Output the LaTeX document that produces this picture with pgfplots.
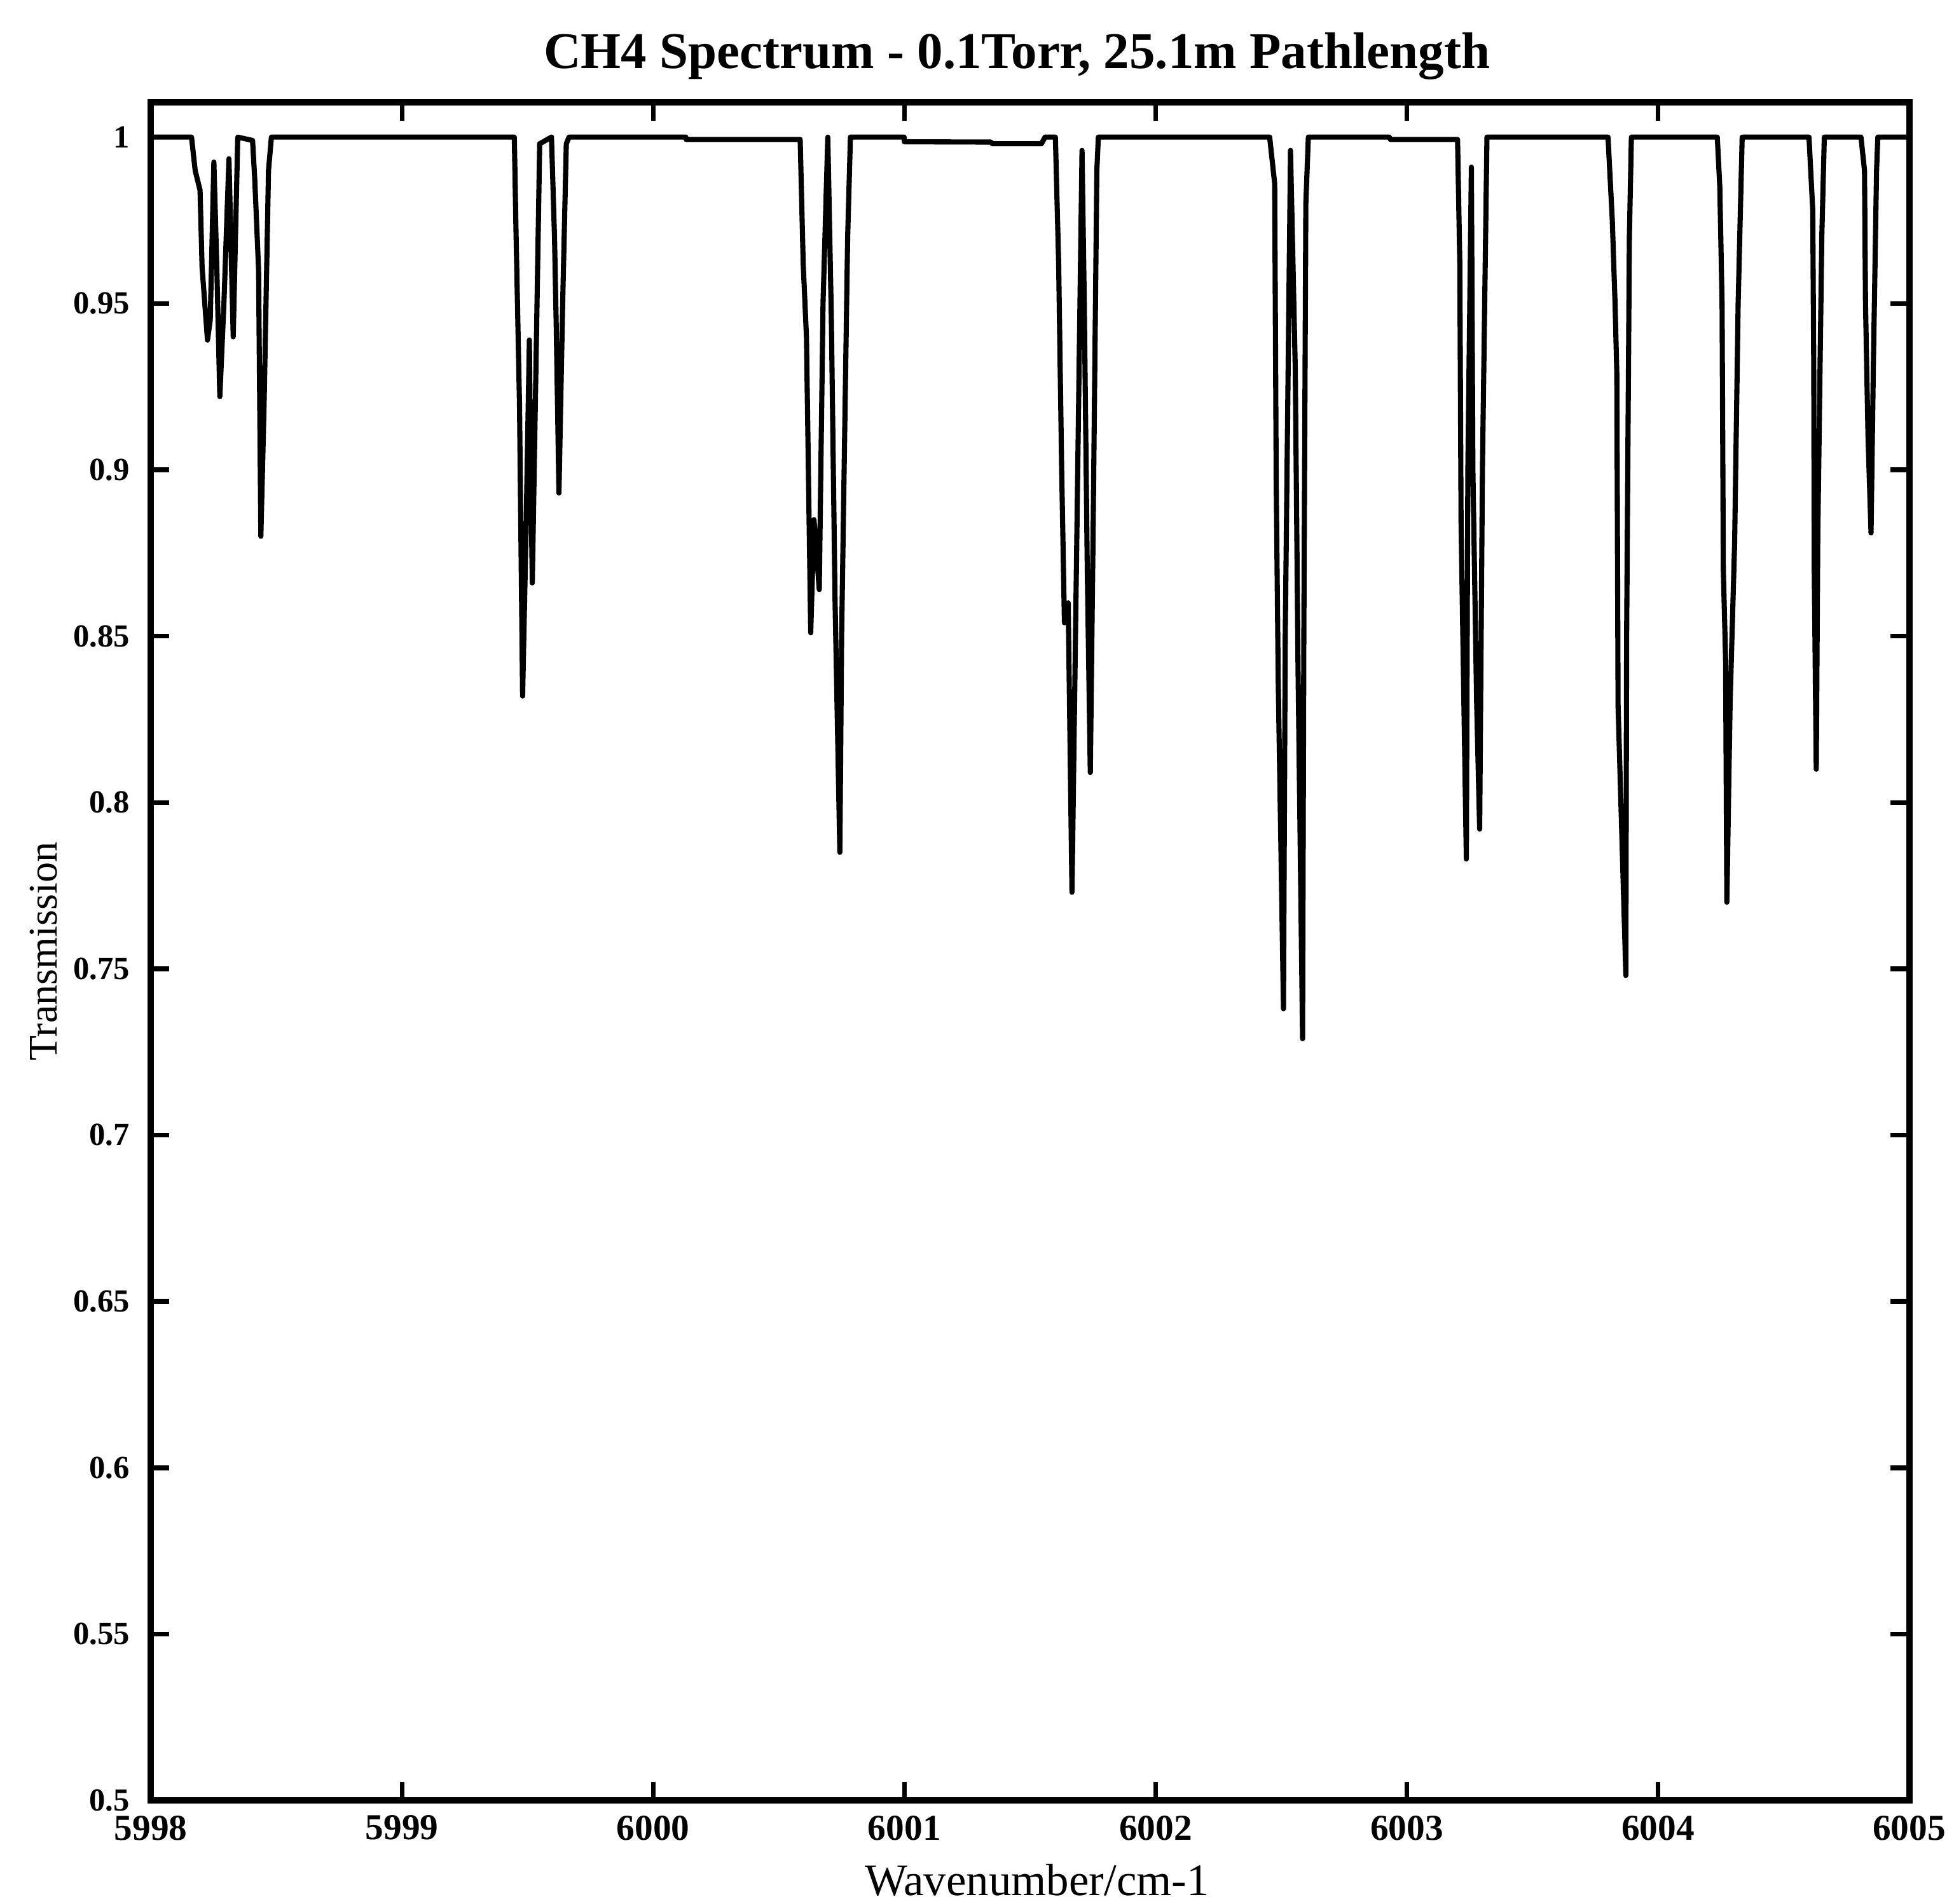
\documentclass[border=0pt]{standalone}
\usepackage{fontspec}
\setmainfont{Liberation Serif}
\usepackage{pgfplots}
\pgfplotsset{compat=1.18}
\begin{document}
\begin{tikzpicture}
\begin{axis}[
  scale only axis, width=14.398cm, height=13.908cm,
  xmin=5998, xmax=6005, ymin=0.5, ymax=1.0105,
  xtick={5998,5999,6000,6001,6002,6003,6004,6005},
  xticklabels={5998,5999,6000,6001,6002,6003,6004,6005},
  ytick={0.5,0.55,0.6,0.65,0.7,0.75,0.8,0.85,0.9,0.95,1},
  yticklabels={0.5,0.55,0.6,0.65,0.7,0.75,0.8,0.85,0.9,0.95,1},
  tick align=inside, major tick length=0.153cm,
  axis line style={line width=1.5pt},
  every tick/.style={black, line width=1.1pt},
  x tick label style={font=\fontsize{8.5}{10}\selectfont\bfseries},
  y tick label style={font=\fontsize{7.5}{9}\selectfont\bfseries, xshift=-0.05cm},
  title={CH4 Spectrum - 0.1Torr, 25.1m Pathlength},
  every axis title/.style={at={(axis description cs:0.4926,1.027)}, anchor=center, font=\fontsize{12}{14}\selectfont\bfseries},
  xlabel={Wavenumber/cm-1},
  every axis x label/.style={at={(axis description cs:0.504,-0.047)}, anchor=center, font=\fontsize{10.5}{12}\selectfont},
  ylabel={Transmission},
  every axis y label/.style={at={(axis description cs:-0.061,0.5)}, rotate=90, anchor=center, font=\fontsize{9.5}{11}\selectfont},
]
\addplot[black, line width=1.2pt, line join=round] table {
x y
5998.000 1.000
5998.162 1.000
5998.1765 0.990
5998.196 0.984
5998.204 0.961
5998.2256 0.939
5998.2365 0.945
5998.251 0.9925
5998.263 0.960
5998.2747 0.922
5998.291 0.950
5998.311 0.9935
5998.320 0.965
5998.328 0.940
5998.346 1.000
5998.405 0.999
5998.414 0.987
5998.429 0.960
5998.438 0.880
5998.451 0.920
5998.4685 0.990
5998.480 1.000
5999.447 1.000
5999.4537 0.972
5999.4676 0.920
5999.480 0.832
5999.4933 0.880
5999.507 0.939
5999.512 0.900
5999.5186 0.866
5999.533 0.930
5999.548 0.998
5999.595 1.000
5999.607 0.970
5999.614 0.943
5999.6247 0.893
5999.6395 0.950
5999.654 0.998
5999.665 1.000
6000.130 1.000
6000.131 0.9993
6000.585 0.9993
6000.597 0.962
6000.610 0.940
6000.627 0.851
6000.640 0.885
6000.661 0.864
6000.676 0.950
6000.695 1.000
6000.709 0.946
6000.724 0.860
6000.743 0.785
6000.750 0.850
6000.774 0.970
6000.785 1.000
6000.999 1.000
6001.000 0.9986
6001.345 0.9985
6001.350 0.998
6001.545 0.998
6001.560 1.000
6001.601 1.000
6001.614 0.962
6001.626 0.900
6001.637 0.854
6001.652 0.860
6001.667 0.773
6001.681 0.850
6001.707 0.996
6001.716 0.950
6001.728 0.870
6001.740 0.809
6001.751 0.880
6001.766 0.990
6001.772 1.000
6002.454 1.000
6002.474 0.986
6002.480 0.897
6002.488 0.837
6002.498 0.790
6002.509 0.738
6002.516 0.850
6002.537 0.996
6002.556 0.930
6002.567 0.840
6002.585 0.729
6002.590 0.850
6002.598 0.980
6002.608 1.000
6002.930 1.000
6002.935 0.9993
6003.202 0.9993
6003.211 0.962
6003.216 0.884
6003.223 0.850
6003.237 0.783
6003.243 0.900
6003.257 0.991
6003.263 0.900
6003.278 0.830
6003.290 0.792
6003.301 0.900
6003.319 1.000
6003.801 1.000
6003.818 0.975
6003.829 0.950
6003.836 0.929
6003.841 0.829
6003.856 0.790
6003.872 0.748
6003.875 0.850
6003.886 0.970
6003.894 1.000
6004.236 1.000
6004.246 0.985
6004.255 0.950
6004.260 0.870
6004.269 0.843
6004.274 0.770
6004.287 0.830
6004.305 0.878
6004.319 0.950
6004.335 1.000
6004.601 1.000
6004.616 0.978
6004.620 0.930
6004.622 0.870
6004.630 0.810
6004.636 0.880
6004.652 0.970
6004.662 1.000
6004.808 1.000
6004.822 0.990
6004.826 0.950
6004.836 0.910
6004.848 0.881
6004.857 0.930
6004.870 0.990
6004.875 1.000
6004.990 1.000
};
\coordinate (SW) at (rel axis cs:0,0);
\coordinate (NE) at (rel axis cs:1,1);
\end{axis}
\pgfresetboundingbox
\path[use as bounding box] ([shift={(-1.235cm,-0.847cm)}]SW) rectangle ([shift={(0.367cm,0.837cm)}]NE);
\end{tikzpicture}
\end{document}
